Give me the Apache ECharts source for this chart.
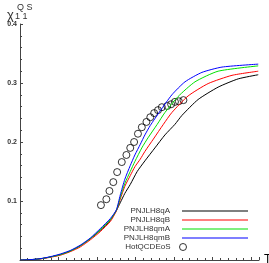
<!DOCTYPE html>
<html>
<head>
<meta charset="utf-8">
<script src="https://cdn.jsdelivr.net/npm/echarts@6/dist/echarts.min.js"></script>
<style>
html, body { margin: 0; padding: 0; background: #fff; }
#chart { width: 269px; height: 263px; }
</style>
</head>
<body>
<div id="chart"></div>
<script>
// 曲线数据 (T, chi11^QS)
const blackT = [0.050,0.063,0.076,0.089,0.102,0.115,0.128,0.141,0.154,0.167,0.175,0.180,0.186,0.193,0.202,0.212,0.225,0.238,0.251,0.260,0.281,0.307,0.333,0.359]
const blackV = [0,0.0005,0.002,0.005,0.009,0.015,0.024,0.036,0.050,0.067,0.084,0.097,0.113,0.128,0.150,0.168,0.190,0.212,0.230,0.245,0.272,0.293,0.307,0.314]

const redT = [0.050,0.063,0.076,0.089,0.102,0.115,0.128,0.141,0.154,0.167,0.175,0.180,0.186,0.193,0.199,0.206,0.212,0.223,0.236,0.247,0.268,0.294,0.325,0.359]
const redV = [0,0.0004,0.0018,0.0045,0.008,0.014,0.022,0.034,0.048,0.065,0.083,0.103,0.125,0.143,0.158,0.171,0.184,0.205,0.230,0.250,0.278,0.299,0.313,0.320]

const greenT = [0.050,0.063,0.076,0.089,0.102,0.115,0.128,0.141,0.154,0.167,0.175,0.180,0.186,0.193,0.199,0.208,0.216,0.228,0.238,0.255,0.277,0.307,0.359]
const greenV = [0,0.0005,0.002,0.005,0.009,0.015,0.024,0.036,0.051,0.068,0.084,0.106,0.130,0.150,0.167,0.190,0.207,0.230,0.250,0.277,0.302,0.320,0.329]

const blueT = [0.050,0.063,0.076,0.089,0.102,0.115,0.128,0.141,0.154,0.167,0.175,0.180,0.186,0.193,0.199,0.206,0.212,0.219,0.232,0.247,0.264,0.286,0.312,0.359]
const blueV = [0,0.0006,0.0022,0.0055,0.010,0.016,0.025,0.037,0.053,0.070,0.085,0.110,0.137,0.160,0.178,0.196,0.212,0.228,0.253,0.280,0.302,0.318,0.327,0.332]

// HotQCD 格点数据
const hotT = [0.155,0.162,0.166,0.171,0.176,0.182,0.188,0.193,0.198,0.203,0.208,0.214,0.219,0.224,0.229,0.234,0.241,0.246,0.251,0.256,0.262]
const hotV = [0.093,0.103,0.117,0.132,0.149,0.166,0.178,0.190,0.200,0.214,0.225,0.234,0.242,0.249,0.254,0.259,0.261,0.264,0.268,0.269,0.271]

const names = ['PNJLH8qA', 'PNJLH8qB', 'PNJLH8qmA', 'PNJLH8qmB', 'HotQCDEoS']
const colors = ['#000000', '#ff0000', '#00e000', '#0000ff']
const legendTops = [207, 216, 225, 234, 243]

const xTicks = [0.05, 0.10, 0.15, 0.20, 0.25, 0.30, 0.35]

function pairs(xs, ys) {
    return xs.map((x, i) => [x, ys[i]])
}

const font = 'Liberation Sans'

let lineData = [pairs(blackT, blackV), pairs(redT, redV), pairs(greenT, greenV), pairs(blueT, blueV)]

let chartSeries = []
lineData.forEach((d, i) => {
    chartSeries.push({
        name: names[i],
        type: 'line',
        data: d,
        symbol: 'none',
        smooth: 0.2,
        lineStyle: { color: colors[i], width: 1 },
        itemStyle: { color: colors[i] }
    })
})
chartSeries.push({
    name: names[4],
    type: 'scatter',
    data: pairs(hotT, hotV),
    symbol: 'circle',
    symbolSize: 7,
    itemStyle: { color: 'rgba(255,255,255,0)', borderColor: '#000', borderWidth: 1 }
})

// 每个图例单独放置, 右对齐
let legends = names.map((n, i) => ({
    data: [n],
    orient: 'vertical',
    align: 'right',
    right: i < 4 ? 21 : 82,
    top: legendTops[i],
    icon: i < 4 ? 'rect' : 'circle',
    itemWidth: i < 4 ? 66 : 7,
    itemHeight: i < 4 ? 1 : 7,
    itemGap: 0,
    padding: 0,
    selectedMode: false,
    itemStyle: i < 4 ? {} : { color: 'rgba(255,255,255,0)', borderColor: '#000', borderWidth: 1 },
    textStyle: { fontSize: 8, fontFamily: font, color: '#333', padding: [0, i < 4 ? 7 : 4, 0, 0] }
}))

let option = {
    animation: false,
    grid: { left: 20, right: 10, top: 24, bottom: 3, containLabel: false, outerBoundsMode: 'none' },
    xAxis: {
        type: 'value',
        min: 0.05,
        max: 0.36,
        interval: 0.05,
        name: 'T',
        nameLocation: 'end',
        nameGap: 3,
        nameTextStyle: { fontSize: 12, fontFamily: font, color: '#000', verticalAlign: 'middle' },
        axisLine: { lineStyle: { color: '#444', width: 1 } },
        axisTick: { inside: true, length: 3, lineStyle: { color: '#444' } },
        minorTick: { show: true, splitNumber: 5, length: 2, lineStyle: { color: '#444' } },
        splitLine: { show: false },
        axisLabel: {
            margin: 3, fontSize: 7, fontWeight: 'bold', fontFamily: font, color: '#777',
            showMaxLabel: false,
            formatter: v => xTicks.some(t => Math.abs(t - v) < 1e-6) ? v.toFixed(2) : ''
        }
    },
    yAxis: {
        type: 'value',
        min: 0,
        max: 0.4,
        interval: 0.1,
        axisLine: { show: true, lineStyle: { color: '#444', width: 1 } },
        axisTick: { show: true, inside: true, length: 3, lineStyle: { color: '#444' } },
        minorTick: { show: true, splitNumber: 5, length: 2, lineStyle: { color: '#444' } },
        splitLine: { show: false },
        axisLabel: {
            margin: 3, fontSize: 7, fontWeight: 'bold', fontFamily: font, color: '#333',
            showMinLabel: false,
            formatter: v => v.toFixed(1)
        }
    },
    legend: legends,
    graphic: [
        { type: 'text', left: 7, top: 9, style: { text: 'χ', font: '13px ' + font, fill: '#333' } },
        { type: 'text', left: 17, top: 3, style: { text: 'Q S', font: '9px ' + font, fill: '#333' } },
        { type: 'text', left: 15, top: 12, style: { text: '1 1', font: '9px ' + font, fill: '#333' } }
    ],
    series: chartSeries
}

let myChart = echarts.init(document.getElementById('chart'))
myChart.setOption(option)
</script>
</body>
</html>
